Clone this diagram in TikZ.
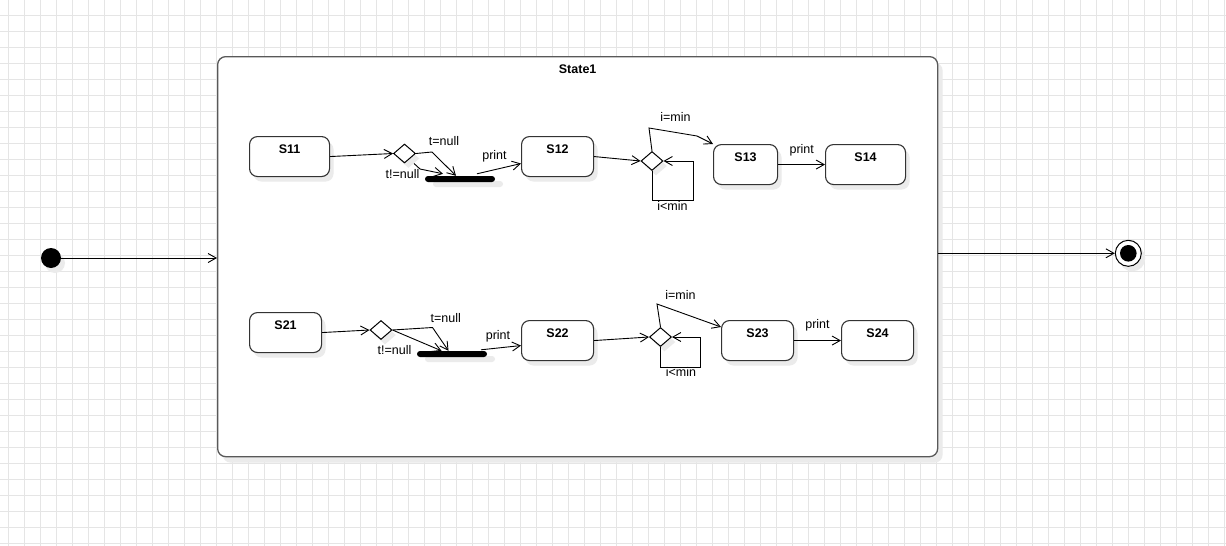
\documentclass[tikz,border=0pt]{standalone}
\usepackage{fontspec}
\setmainfont{Liberation Sans}
\usetikzlibrary{shapes.geometric,arrows.meta,shadows,calc}

\begin{document}
\begin{tikzpicture}[x=1pt,y=-1pt,
  every node/.style={font=\fontsize{12.5}{15}\selectfont},
  gridline/.style={draw=black!10, line width=1pt},
  softshadow/.style={drop shadow={shadow xshift=4pt, shadow yshift=-5pt, fill=black!8, opacity=1}},
  container/.style={draw=black!65, line width=1.3pt, fill=white, rounded corners=8pt,
    anchor=north west, minimum width=720pt, inner xsep=0pt, inner ysep=0pt,
    text height=17pt, text depth=383pt, font=\bfseries\fontsize{12.5}{15}\selectfont,
    drop shadow={shadow xshift=5pt, shadow yshift=-6pt, fill=black!8, opacity=1}},
  stbox/.style={draw=black!80, line width=1.1pt, fill=white, rounded corners=8pt,
    anchor=north west, minimum height=40pt, inner xsep=0pt, inner ysep=0pt,
    text height=17pt, text depth=23pt, font=\bfseries\fontsize{12.5}{15}\selectfont, softshadow},
  choice/.style={diamond, draw=black, line width=1pt, fill=white, minimum width=22pt,
    minimum height=19pt, inner sep=0pt, softshadow},
  joinbar/.style={rectangle, fill=black, minimum width=70pt, minimum height=6pt,
    inner sep=0pt, rounded corners=3pt,
    drop shadow={shadow xshift=8pt, shadow yshift=-5pt, fill=black!8, opacity=1}},
  startdot/.style={circle, fill=black, minimum size=20pt, inner sep=0pt, softshadow},
  enddot/.style={circle, draw=black, line width=1pt, fill=white, minimum size=26pt, inner sep=0pt,
    path picture={\fill[black] (path picture bounding box.center) circle (8.3pt);}, softshadow},
  edge/.style={draw=black, line width=0.9pt, -{Straight Barb[length=8pt,width=9pt]}},
  lbl/.style={anchor=base, inner sep=0pt}
]
\useasboundingbox (0,0) rectangle (1226,546);
\fill[white] (0,0) rectangle (1226,546);

% background grid
\foreach \gx in {0,...,76} \draw[gridline] ({8+16*\gx},0) -- ({8+16*\gx},546);
\foreach \gy in {1,...,34} \draw[gridline] (0,{16*\gy-0.5}) -- (1226,{16*\gy-0.5});

% composite state
\node[container] (state1) at (217,56) {State1};

% upper region
\node[stbox, minimum width=80pt] (s11) at (249,136) {S11};
\node[stbox, minimum width=72pt] (s12) at (521,136) {S12};
\node[stbox, minimum width=64pt] (s13) at (713,144) {S13};
\node[stbox, minimum width=80pt] (s14) at (825,144) {S14};
\node[choice] (d1) at (404.5,153.5) {};
\node[choice] (d2) at (652,161) {};
\node[joinbar] (j1) at (460,179) {};

% lower region
\node[stbox, minimum width=72pt] (s21) at (249,312) {S21};
\node[stbox, minimum width=72pt] (s22) at (521,320) {S22};
\node[stbox, minimum width=72pt] (s23) at (721,320) {S23};
\node[stbox, minimum width=72pt] (s24) at (841,320) {S24};
\node[choice] (d3) at (381,330) {};
\node[choice] (d4) at (660.5,337) {};
\node[joinbar] (j2) at (452,354) {};

% pseudo states
\node[startdot] (init) at (51,258) {};
\node[enddot] (fin) at (1128.3,253.3) {};

% transitions outside
\draw[edge] (init.east) -- (init -| state1.west);
\draw[edge] (fin -| state1.east) -- (fin.west);

% transitions, upper region
\draw[edge] (s11.east) -- (d1.west);
\draw[edge] (d1.east) -- (432,152) -- ($(j1.north)+(-4,0)$);
\draw[edge] ($(d1.south)+(9.5,0)$) -- (420,169) -- ($(j1.north)+(-17,-2)$);
\draw[edge] ($(j1.north)+(17,-2)$) -- ($(s12.west)+(0,7)$);
\draw[edge] (s12.east) -- (d2.west);
\draw[edge] (d2.north) -- (649,128) -- (697,136) -- (s13.north west);
\draw[edge] (d2.south) |- (693,200) |- (d2.east);
\draw[edge] (s13.east) -- (s14.west);

\node[lbl] (l1) at (444,145) {t=null};
\node[lbl] (l2) at (402.5,178.3) {t!=null};
\node[lbl] (l3) at (494.5,159.5) {print};
\node[lbl] (l4) at (675.5,121.7) {i=min};
\node[lbl] (l5) at (672.5,210) {i<min};
\node[lbl] (l6) at (801.7,153) {print};

% transitions, lower region
\draw[edge] (s21.east) -- (d3.west);
\draw[edge] (d3.east) -- (432.5,327.5) -- ($(j2.north)+(-3.5,0)$);
\draw[edge] (d3.east) -- ($(j2.north)+(-10.5,0)$);
\draw[edge] ($(j2.north)+(29,-1)$) -- ($(s22.west)+(0,5)$);
\draw[edge] (s22.east) -- (d4.west);
\draw[edge] (d4.north) -- (657,304) -- ($(s23.north west)+(0,7)$);
\draw[edge] (d4.south) |- (700.5,367) |- (d4.east);
\draw[edge] (s23.east) -- (s24.west);

\node[lbl] (l7) at (445.7,322.7) {t=null};
\node[lbl] (l8) at (394.5,354) {t!=null};
\node[lbl] (l9) at (498,339) {print};
\node[lbl] (l10) at (680.5,299.3) {i=min};
\node[lbl] (l11) at (681,376.7) {i<min};
\node[lbl] (l12) at (817.5,328.7) {print};
\end{tikzpicture}
\end{document}
